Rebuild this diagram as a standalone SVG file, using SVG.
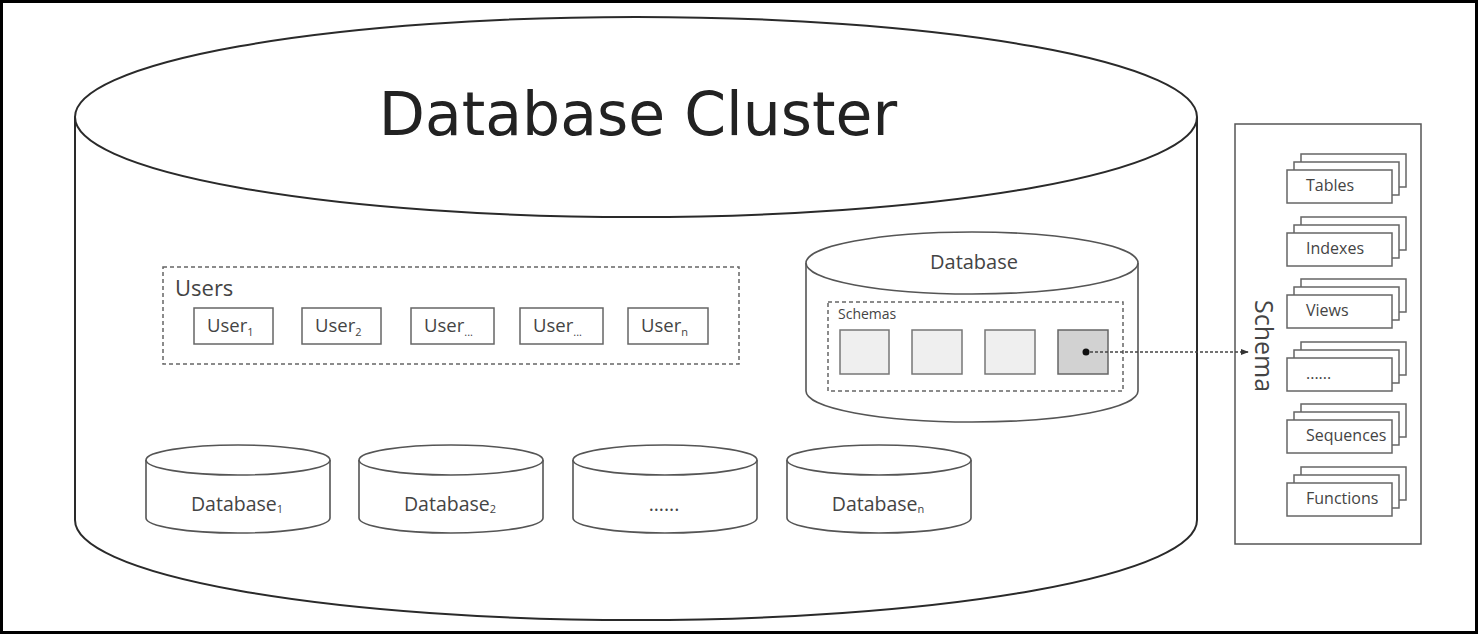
<svg xmlns="http://www.w3.org/2000/svg" width="1478" height="634" viewBox="0 0 1478 634">
<style>
.frame{fill:#fff;stroke:#000;stroke-width:3}
.big{fill:#fff;stroke:#2a2a2a;stroke-width:2}
.cyl{fill:#fff;stroke:#555;stroke-width:1.6}
.box{fill:#fff;stroke:#666;stroke-width:1.5}
.dash{fill:none;stroke:#666;stroke-width:1.5;stroke-dasharray:4 3}
.sq{fill:#efefef;stroke:#777;stroke-width:1.5}
.sqd{fill:#d2d2d2;stroke:#666;stroke-width:1.5}
.t{font-family:"Open Sans","DejaVu Sans",sans-serif;fill:#444}
.title{font-family:"DejaVu Sans",sans-serif;fill:#222;font-size:60px}
.sub{font-size:11px}
.conn{stroke:#444;stroke-width:1.5;stroke-dasharray:3 2;fill:none}
</style>
<defs>
<marker id="arr" viewBox="0 0 10 10" refX="9" refY="5" markerWidth="8" markerHeight="8" orient="auto" markerUnits="userSpaceOnUse">
<path d="M0,1 L10,5 L0,9 Z" fill="#333"/>
</marker>
</defs>
<rect class="frame" x="1.5" y="1.5" width="1475" height="631"/>

<g id="cluster">
<path class="big" d="M75,117 L75,520 A561,100 0 0 0 1197,520 L1197,117"/>
<ellipse class="big" cx="636" cy="117" rx="561" ry="100"/>
<text class="title" x="638" y="135" text-anchor="middle">Database Cluster</text>
</g>

<g id="users">
<rect class="dash" x="163" y="267" width="576" height="97"/>
<text class="t" x="175" y="296" font-size="22">Users</text>
<g id="user1"><rect class="box" x="194" y="308" width="79" height="36"/><text class="t" x="207" y="332" font-size="18.5">User<tspan class="sub" dy="4">1</tspan></text></g>
<g id="user2"><rect class="box" x="302" y="308" width="79" height="36"/><text class="t" x="315" y="332" font-size="18.5">User<tspan class="sub" dy="4">2</tspan></text></g>
<g id="user3"><rect class="box" x="411" y="308" width="83" height="36"/><text class="t" x="424" y="332" font-size="18.5">User<tspan class="sub" dy="4">...</tspan></text></g>
<g id="user4"><rect class="box" x="520" y="308" width="83" height="36"/><text class="t" x="533" y="332" font-size="18.5">User<tspan class="sub" dy="4">...</tspan></text></g>
<g id="usern"><rect class="box" x="628" y="308" width="80" height="36"/><text class="t" x="641" y="332" font-size="18.5">User<tspan class="sub" dy="4">n</tspan></text></g>
</g>

<g id="database">
<path class="cyl" d="M806,263 L806,391 A166,31 0 0 0 1138,391 L1138,263"/>
<ellipse class="cyl" cx="972" cy="263" rx="166" ry="31"/>
<text class="t" x="974" y="269" font-size="20" text-anchor="middle">Database</text>
<rect class="dash" x="828" y="302" width="295" height="89"/>
<text class="t" x="838" y="319" font-size="14">Schemas</text>
<rect class="sq" x="840" y="330" width="49" height="44"/>
<rect class="sq" x="912" y="330" width="50" height="44"/>
<rect class="sq" x="985" y="330" width="50" height="44"/>
<rect class="sqd" x="1058" y="330" width="50" height="44"/>
<circle cx="1086" cy="352" r="3.5" fill="#111"/>
</g>

<g id="db1">
<path class="cyl" d="M146,460 L146,518 A92,15 0 0 0 330,518 L330,460"/>
<ellipse class="cyl" cx="238" cy="460" rx="92" ry="15"/>
<text class="t" x="237" y="511" font-size="19.5" text-anchor="middle">Database<tspan class="sub" font-size="12" dy="2">1</tspan></text>
</g>
<g id="db2">
<path class="cyl" d="M359,460 L359,518 A92,15 0 0 0 543,518 L543,460"/>
<ellipse class="cyl" cx="451" cy="460" rx="92" ry="15"/>
<text class="t" x="450" y="511" font-size="19.5" text-anchor="middle">Database<tspan class="sub" font-size="12" dy="2">2</tspan></text>
</g>
<g id="db3">
<path class="cyl" d="M573,460 L573,518 A92,15 0 0 0 757,518 L757,460"/>
<ellipse class="cyl" cx="665" cy="460" rx="92" ry="15"/>
<text class="t" x="664" y="511" font-size="19.5" text-anchor="middle">......</text>
</g>
<g id="dbn">
<path class="cyl" d="M787,460 L787,518 A92,15 0 0 0 971,518 L971,460"/>
<ellipse class="cyl" cx="879" cy="460" rx="92" ry="15"/>
<text class="t" x="878" y="511" font-size="19.5" text-anchor="middle">Database<tspan class="sub" font-size="12" dy="2">n</tspan></text>
</g>

<g id="schema">
<rect class="box" x="1235" y="124" width="186" height="420" style="stroke:#555"/>
<text class="t" x="0" y="0" font-size="25" text-anchor="middle" transform="translate(1255,346) rotate(90)">Schema</text>
<g id="tables">
<rect class="box" x="1301" y="154" width="105" height="33"/><rect class="box" x="1294" y="162" width="105" height="33"/><rect class="box" x="1287" y="170" width="105" height="33"/>
<text class="t" x="1306" y="191" font-size="16">Tables</text></g>
<g id="indexes">
<rect class="box" x="1301" y="217" width="105" height="33"/><rect class="box" x="1294" y="225" width="105" height="33"/><rect class="box" x="1287" y="233" width="105" height="33"/>
<text class="t" x="1306" y="254" font-size="16">Indexes</text></g>
<g id="views">
<rect class="box" x="1301" y="279" width="105" height="33"/><rect class="box" x="1294" y="287" width="105" height="33"/><rect class="box" x="1287" y="295" width="105" height="33"/>
<text class="t" x="1306" y="316" font-size="16">Views</text></g>
<g id="more">
<rect class="box" x="1301" y="342" width="105" height="33"/><rect class="box" x="1294" y="350" width="105" height="33"/><rect class="box" x="1287" y="358" width="105" height="33"/>
<text class="t" x="1306" y="379" font-size="16">......</text></g>
<g id="sequences">
<rect class="box" x="1301" y="404" width="105" height="33"/><rect class="box" x="1294" y="412" width="105" height="33"/><rect class="box" x="1287" y="420" width="105" height="33"/>
<text class="t" x="1306" y="441" font-size="16">Sequences</text></g>
<g id="functions">
<rect class="box" x="1301" y="467" width="105" height="33"/><rect class="box" x="1294" y="475" width="105" height="33"/><rect class="box" x="1287" y="483" width="105" height="33"/>
<text class="t" x="1306" y="504" font-size="16">Functions</text></g>
</g>

<g id="connectors">
<line class="conn" x1="1090" y1="352" x2="1248" y2="352" marker-end="url(#arr)"/>
</g>
</svg>
